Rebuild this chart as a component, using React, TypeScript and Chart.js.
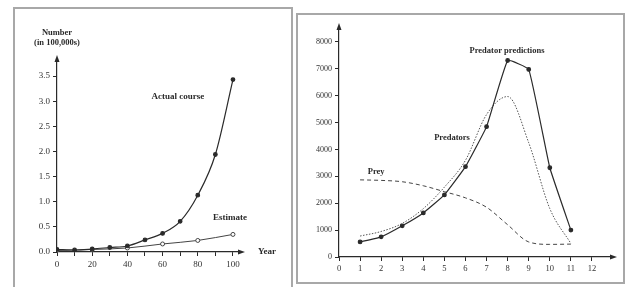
import React, { useEffect, useRef } from "react";
import { Chart, registerables } from "chart.js";

Chart.register(...registerables);

// ---- Left chart data ----
const leftYears = [0, 10, 20, 30, 40, 50, 60, 70, 80, 90, 100];
const actualCourse = [0.05, 0.04, 0.06, 0.09, 0.12, 0.24, 0.37, 0.61, 1.13, 1.94, 3.43];
const estimateYears = [0, 20, 40, 60, 80, 100];
const estimate = [0.03, 0.05, 0.08, 0.16, 0.23, 0.35];
const leftXTicks = [0, 10, 20, 30, 40, 50, 60, 70, 80, 90, 100];
const leftYTicks = [0, 0.5, 1, 1.5, 2, 2.5, 3, 3.5];

// ---- Right chart data ----
const steps = [1, 2, 3, 4, 5, 6, 7, 8, 9, 10, 11];
const predatorPredictions = [560, 750, 1160, 1640, 2310, 3360, 4850, 7310, 6980, 3320, 1000];
const predators = [780, 950, 1250, 1800, 2600, 3600, 5300, 5970, 4250, 1800, 500];
const prey = [2870, 2850, 2800, 2650, 2430, 2200, 1850, 1200, 560, 470, 480];
const rightXTicks = [0, 1, 2, 3, 4, 5, 6, 7, 8, 9, 10, 11, 12];
const rightYTicks = [0, 1000, 2000, 3000, 4000, 5000, 6000, 7000, 8000];

const SERIF = "'Liberation Serif', 'DejaVu Serif', serif";
const INK = "#2a2a2a";

type Label = { text: string; x: number; y: number; size: number; bold?: boolean };

function makePlugin(labels: Label[], extra: (chart: any) => void) {
  return {
    id: "decor",
    afterDraw(chart: any) {
      const ctx = chart.ctx;
      const { left, right, top, bottom } = chart.chartArea;
      ctx.save();
      ctx.fillStyle = INK;
      // arrowheads
      ctx.beginPath();
      ctx.moveTo(left, top - 5);
      ctx.lineTo(left - 2.5, top + 2);
      ctx.lineTo(left + 2.5, top + 2);
      ctx.closePath();
      ctx.fill();
      ctx.beginPath();
      ctx.moveTo(right + 5, bottom);
      ctx.lineTo(right - 2, bottom - 2.5);
      ctx.lineTo(right - 2, bottom + 2.5);
      ctx.closePath();
      ctx.fill();
      // labels in data coords
      const xs = chart.scales.x;
      const ys = chart.scales.y;
      ctx.textAlign = "center";
      ctx.textBaseline = "middle";
      labels.forEach((l) => {
        ctx.font = `${l.bold ? "bold " : ""}${l.size}px ${SERIF}`;
        ctx.fillText(l.text, xs.getPixelForValue(l.x), ys.getPixelForValue(l.y));
      });
      extra(chart);
      ctx.restore();
    },
  };
}

function axisOpts(min: number, max: number, tickValues: number[], fontSize: number, cb: (v: number) => string, fixed: number, isX: boolean) {
  return {
    type: "linear" as const,
    min,
    max,
    border: { display: true, color: INK, width: 1.2 },
    grid: { drawOnChartArea: false, drawTicks: true, tickLength: 4, color: INK, lineWidth: 1 },
    ticks: {
      autoSkip: false,
      maxRotation: 0,
      padding: 3,
      color: "#333",
      font: { family: SERIF, size: fontSize },
      callback: (v: any) => cb(Number(v)),
    },
    afterBuildTicks: (scale: any) => {
      scale.ticks = tickValues.map((v) => ({ value: v }));
    },
    afterFit: (scale: any) => {
      if (isX) scale.height = fixed;
      else scale.width = fixed;
    },
  };
}

function LeftChart() {
  const ref = useRef<HTMLCanvasElement>(null);
  useEffect(() => {
    const labels: Label[] = [
      { text: "Actual course", x: 68.7, y: 3.1, size: 9, bold: true },
      { text: "Estimate", x: 98.3, y: 0.68, size: 9, bold: true },
    ];
    const chart = new Chart(ref.current!, {
      type: "line",
      data: {
        datasets: [
          {
            data: leftYears.map((x, i) => ({ x, y: actualCourse[i] })),
            borderColor: INK,
            borderWidth: 1.2,
            pointRadius: 1.8,
            pointBackgroundColor: INK,
            pointBorderColor: INK,
            cubicInterpolationMode: "monotone",
          },
          {
            data: estimateYears.map((x, i) => ({ x, y: estimate[i] })),
            borderColor: "#444",
            borderWidth: 1,
            pointRadius: 2,
            pointBackgroundColor: "#fff",
            pointBorderColor: "#444",
            cubicInterpolationMode: "monotone",
          },
        ],
      },
      options: {
        animation: false,
        responsive: false,
        layout: { padding: { top: 50, right: 50, left: 0, bottom: 0 } },
        plugins: { legend: { display: false }, tooltip: { enabled: false } },
        scales: {
          x: axisOpts(0, 104, leftXTicks, 9, (v) => (Math.round(v) % 20 === 0 ? String(Math.round(v)) : ""), 35, true),
          y: axisOpts(0, 3.82, leftYTicks, 9, (v) => v.toFixed(1), 41, false),
        },
      },
      plugins: [
        makePlugin(labels, (c: any) => {
          const ctx = c.ctx;
          const { left, right, top, bottom } = c.chartArea;
          ctx.font = `bold 8.5px ${SERIF}`;
          ctx.textAlign = "center";
          ctx.fillText("Number", left, top - 27);
          ctx.fillText("(in 100,000s)", left, top - 17);
          ctx.font = `bold 9px ${SERIF}`;
          ctx.fillText("Year", right + 27, bottom);
        }),
      ],
    });
    return () => chart.destroy();
  }, []);
  return <canvas ref={ref} width={274} height={277} style={{ position: "absolute", left: 16, top: 10 }} />;
}

function RightChart() {
  const ref = useRef<HTMLCanvasElement>(null);
  useEffect(() => {
    const labels: Label[] = [
      { text: "Predator predictions", x: 7.97, y: 7665, size: 8.5, bold: true },
      { text: "Predators", x: 5.36, y: 4428, size: 8.5, bold: true },
      { text: "Prey", x: 1.76, y: 3163, size: 8.5, bold: true },
    ];
    const chart = new Chart(ref.current!, {
      type: "line",
      data: {
        datasets: [
          {
            data: steps.map((x, i) => ({ x, y: predatorPredictions[i] })),
            borderColor: INK,
            borderWidth: 1.2,
            pointRadius: 1.8,
            pointBackgroundColor: INK,
            pointBorderColor: INK,
            tension: 0.1,
          },
          {
            data: steps.map((x, i) => ({ x, y: predators[i] })),
            borderColor: "#555",
            borderWidth: 1,
            borderDash: [1.5, 1.5],
            pointRadius: 0,
            cubicInterpolationMode: "monotone",
          },
          {
            data: steps.map((x, i) => ({ x, y: prey[i] })),
            borderColor: "#444",
            borderWidth: 1,
            borderDash: [4, 3],
            pointRadius: 0,
            cubicInterpolationMode: "monotone",
          },
        ],
      },
      options: {
        animation: false,
        responsive: false,
        layout: { padding: { top: 12, right: 9, left: 0, bottom: 0 } },
        plugins: { legend: { display: false }, tooltip: { enabled: false } },
        scales: {
          x: axisOpts(0, 12.95, rightXTicks, 8.5, (v) => String(Math.round(v)), 24, true),
          y: axisOpts(0, 8520, rightYTicks, 8, (v) => String(Math.round(v)), 40, false),
        },
      },
      plugins: [makePlugin(labels, () => {})],
    });
    return () => chart.destroy();
  }, []);
  return <canvas ref={ref} width={322} height={265} style={{ position: "absolute", left: 299, top: 16 }} />;
}

export default function App() {
  return (
    <div style={{ position: "absolute", left: 0, top: 0, width: 631, height: 287, background: "#fff", overflow: "hidden" }}>
      <div style={{ position: "absolute", left: 13, top: 7, width: 276, height: 290, border: "2px solid #a8a8a8" }} />
      <div style={{ position: "absolute", left: 296, top: 13, width: 325, height: 267, border: "2px solid #a8a8a8" }} />
      <LeftChart />
      <RightChart />
    </div>
  );
}
